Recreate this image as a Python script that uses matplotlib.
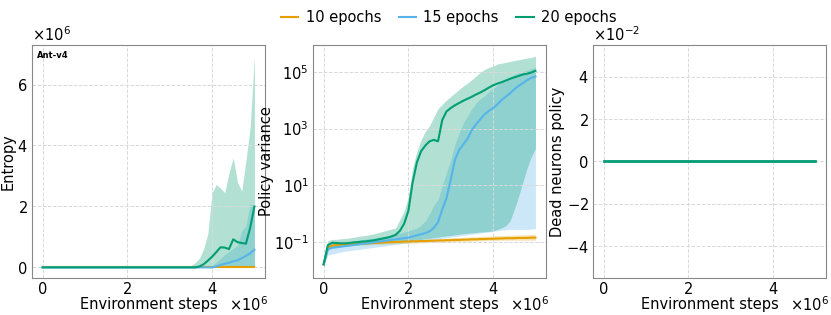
import numpy as np
import matplotlib
matplotlib.use("Agg")
import matplotlib.pyplot as plt

# environment steps, one reading every 1e5 steps
steps = np.linspace(0, 5e6, 51)

labels = ["10 epochs", "15 epochs", "20 epochs"]
colors = ["#E69F00", "#56B4E9", "#009E73"]

# Entropy (in units of 1e6)
ent_orange_mean = [0.0] * 51
ent_orange_lo = [0.0] * 51
ent_orange_hi = [0.0] * 41 + [0.04] * 10
ent_blue_mean = [0.0] * 41 + [0.03, 0.08, 0.12, 0.15, 0.2, 0.23, 0.3, 0.38, 0.46, 0.58]
ent_blue_lo = [0.0] * 51
ent_blue_hi = [0.0] * 40 + [0.05, 0.17, 0.3, 0.42, 0.52, 0.62, 0.72, 1.2, 1.37, 2.1, 2.0]
ent_green_mean = [0.0] * 37 + [0.03, 0.1, 0.22, 0.35, 0.5, 0.66, 0.65, 0.6, 0.92,
                               0.83, 0.8, 0.78, 1.3, 2.0]
ent_green_lo = [0.0] * 51
ent_green_hi = [0.0] * 34 + [0.02, 0.06, 0.15, 0.3, 0.6, 1.1, 2.45, 2.72, 2.6, 2.45,
                             3.1, 3.6, 2.8, 2.5, 3.5, 4.6, 6.95]

# Policy variance, log10 values
var_orange_mean = [-1.78, -1.2, -1.12, -1.1, -1.09, -1.08, -1.07, -1.06, -1.05, -1.04,
                   -1.04, -1.03, -1.02, -1.02, -1.01, -1.0, -1.0, -0.99, -0.99, -0.98,
                   -0.98, -0.97, -0.97, -0.96, -0.96, -0.95, -0.95, -0.94, -0.94, -0.93,
                   -0.93, -0.92, -0.92, -0.91, -0.91, -0.9, -0.9, -0.89, -0.89, -0.88,
                   -0.88, -0.87, -0.87, -0.86, -0.86, -0.86, -0.85, -0.85, -0.85, -0.84,
                   -0.84]
var_orange_hi = [-1.7, -1.13, -1.06, -1.04, -1.03, -1.02, -1.01, -1.0, -0.99, -0.98,
                 -0.98, -0.97, -0.96, -0.96, -0.95, -0.94, -0.94, -0.93, -0.93, -0.92,
                 -0.92, -0.91, -0.91, -0.9, -0.9, -0.89, -0.88, -0.87, -0.87, -0.86,
                 -0.85, -0.84, -0.84, -0.83, -0.82, -0.81, -0.81, -0.8, -0.79, -0.79,
                 -0.78, -0.77, -0.77, -0.76, -0.76, -0.75, -0.75, -0.74, -0.74, -0.73,
                 -0.73]
var_orange_lo = [-1.85, -1.28, -1.18, -1.16, -1.15, -1.14, -1.13, -1.12, -1.11, -1.1,
                 -1.1, -1.09, -1.08, -1.08, -1.07, -1.06, -1.06, -1.05, -1.05, -1.04,
                 -1.04, -1.03, -1.03, -1.02, -1.02, -1.01, -1.01, -1.0, -1.0, -0.99,
                 -0.99, -0.98, -0.98, -0.97, -0.97, -0.96, -0.96, -0.95, -0.95, -0.94,
                 -0.94, -0.94, -0.93, -0.93, -0.93, -0.93, -0.93, -0.93, -0.93, -0.93,
                 -0.93]
var_blue_mean = [-1.78, -1.25, -1.2, -1.18, -1.16, -1.14, -1.12, -1.1, -1.08, -1.06,
                 -1.04, -1.02, -1.0, -0.98, -0.96, -0.94, -0.92, -0.9, -0.88, -0.86,
                 -0.84, -0.8, -0.76, -0.72, -0.68, -0.62, -0.5, -0.3, 0.15, 0.55,
                 1.2, 1.9, 2.25, 2.45, 2.65, 2.95, 3.15, 3.33, 3.5, 3.62,
                 3.72, 3.85, 4.0, 4.12, 4.24, 4.38, 4.5, 4.6, 4.7, 4.78,
                 4.83]
var_blue_hi = [-1.7, -1.1, -1.05, -1.03, -1.01, -0.99, -0.97, -0.95, -0.93, -0.91,
               -0.89, -0.87, -0.85, -0.83, -0.81, -0.78, -0.75, -0.72, -0.68, -0.64,
               -0.6, -0.55, -0.5, -0.4, -0.25, 0.0, 0.3, 0.5, 1.0, 1.45,
               1.9, 2.45, 2.85, 3.2, 3.45, 3.7, 3.9, 4.05, 4.15, 4.3,
               4.4, 4.52, 4.62, 4.72, 4.82, 4.9, 4.96, 5.0, 5.05, 5.1,
               5.17]
var_blue_lo = [-1.85, -1.45, -1.42, -1.38, -1.35, -1.32, -1.3, -1.28, -1.26, -1.24,
               -1.22, -1.2, -1.18, -1.16, -1.14, -1.12, -1.1, -1.08, -1.06, -1.04,
               -1.02, -1.0, -0.98, -0.96, -0.94, -0.92, -0.9, -0.88, -0.86, -0.84,
               -0.82, -0.8, -0.78, -0.76, -0.74, -0.72, -0.7, -0.68, -0.66, -0.64,
               -0.62, -0.6, -0.58, -0.56, -0.55, -0.55, -0.55, -0.55, -0.55, -0.54,
               -0.52]
var_green_mean = [-1.78, -1.1, -1.02, -1.03, -1.04, -1.04, -1.03, -1.01, -1.0, -0.98,
                  -0.97, -0.95, -0.93, -0.9, -0.87, -0.84, -0.8, -0.74, -0.6, -0.35,
                  0.1, 1.1, 1.8, 2.2, 2.4, 2.55, 2.6, 2.55, 3.3, 3.6,
                  3.72, 3.82, 3.9, 3.98, 4.05, 4.12, 4.2, 4.27, 4.35, 4.44,
                  4.52, 4.58, 4.63, 4.69, 4.75, 4.8, 4.85, 4.9, 4.93, 4.97,
                  5.03]
var_green_hi = [-1.7, -0.95, -0.9, -0.9, -0.88, -0.87, -0.85, -0.83, -0.8, -0.78,
                -0.76, -0.73, -0.7, -0.66, -0.62, -0.58, -0.54, -0.5, -0.2, 0.1,
                0.6, 1.6, 2.2, 2.6, 2.9, 3.1, 3.4, 3.7, 3.85, 4.0,
                4.13, 4.25, 4.38, 4.5, 4.6, 4.72, 4.85, 4.98, 5.08, 5.15,
                5.2, 5.27, 5.3, 5.33, 5.36, 5.39, 5.42, 5.45, 5.48, 5.5,
                5.55]
var_green_lo = [-1.85, -1.2, -1.15, -1.14, -1.13, -1.12, -1.11, -1.1, -1.09, -1.08,
                -1.07, -1.06, -1.05, -1.04, -1.03, -1.02, -1.0, -0.99, -0.98, -0.97,
                -0.96, -0.94, -0.92, -0.9, -0.88, -0.86, -0.84, -0.82, -0.8, -0.78,
                -0.76, -0.74, -0.72, -0.7, -0.69, -0.67, -0.66, -0.64, -0.63, -0.62,
                -0.6, -0.55, -0.5, -0.42, -0.25, 0.15, 0.6, 1.1, 1.6, 2.0,
                2.3]

# Dead neurons policy: all runs stay at zero
dead_orange = [0.0] * 51
dead_blue = [0.0] * 51
dead_green = [0.0] * 51

FS = 10.5
plt.rcParams['font.family'] = ['DejaVu Sans']
plt.rcParams['font.size'] = FS
plt.rcParams['axes.formatter.use_mathtext'] = True

fig = plt.figure(figsize=(8.31, 3.15), dpi=100)
ax1 = fig.add_axes([0.0385, 0.1175, 0.2804, 0.7397])
ax2 = fig.add_axes([0.3767, 0.1175, 0.2804, 0.7397])
ax3 = fig.add_axes([0.7136, 0.1175, 0.2804, 0.7397])


def band(ax, mean, lo, hi, color, label, scale=1.0, log=False):
    mean, lo, hi = np.array(mean), np.array(lo), np.array(hi)
    if log:
        mean, lo, hi = 10 ** mean, 10 ** lo, 10 ** hi
    else:
        mean, lo, hi = mean * scale, lo * scale, hi * scale
    ax.fill_between(steps, lo, hi, color=color, alpha=0.3, lw=0)
    ax.plot(steps, mean, color=color, lw=1.5, label=label)


ent = [(ent_orange_mean, ent_orange_lo, ent_orange_hi),
       (ent_blue_mean, ent_blue_lo, ent_blue_hi),
       (ent_green_mean, ent_green_lo, ent_green_hi)]
var = [(var_orange_mean, var_orange_lo, var_orange_hi),
       (var_blue_mean, var_blue_lo, var_blue_hi),
       (var_green_mean, var_green_lo, var_green_hi)]
dead = [dead_orange, dead_blue, dead_green]

for (m, lo, hi), c, lab in zip(ent, colors, labels):
    band(ax1, m, lo, hi, c, lab, scale=1e6)
for (m, lo, hi), c, lab in zip(var, colors, labels):
    band(ax2, m, lo, hi, c, lab, log=True)
for d, c, lab in zip(dead, colors, labels):
    ax3.plot(steps, d, color=c, lw=1.8, label=lab)

ax2.set_yscale('log')
ax2.set_ylim(10 ** -2.26, 10 ** 5.94)
ax2.set_yticks([1e-1, 1e1, 1e3, 1e5])
ax2.yaxis.set_minor_locator(matplotlib.ticker.NullLocator())

ax1.set_ylabel("Entropy", labelpad=1)
ax2.set_ylabel("Policy variance", labelpad=0)
ax3.set_ylabel("Dead neurons policy", labelpad=1)
ax1.text(0.02, 0.975, "Ant-v4", transform=ax1.transAxes, fontsize=6,
         fontweight='bold', va='top', ha='left')

for ax in (ax1, ax2, ax3):
    ax.set_xlabel("Environment steps", labelpad=0)
    ax.set_xticks([0, 2e6, 4e6])
    ax.ticklabel_format(axis='x', style='sci', scilimits=(0, 0), useMathText=True)
    ax.grid(True, color='#d9d9d9', linestyle='--', lw=0.7)
    ax.tick_params(length=0, labelsize=FS, pad=3)
    ax.tick_params(axis='x', pad=2)
    for s in ax.spines.values():
        s.set_color('#888888')
    ax.yaxis.get_offset_text().set_fontsize(FS)
for ax in (ax1, ax3):
    ax.ticklabel_format(axis='y', style='sci', scilimits=(0, 0), useMathText=True)

# put the x multiplier beside the x label, as in the source figure
fig.canvas.draw()
for ax in (ax1, ax2, ax3):
    off = ax.xaxis.get_major_formatter().get_offset()
    ax.xaxis.get_offset_text().set_visible(False)
    ax.annotate(off, xy=(1, 0), xycoords='axes fraction', xytext=(3, -27),
                textcoords='offset pixels', ha='right', va='center', fontsize=FS)

h, l = ax1.get_legend_handles_labels()
fig.legend(h, l, loc='upper center', bbox_to_anchor=(0.54, 1.01), ncol=3,
           frameon=False, fontsize=FS, handlelength=1.2, handletextpad=0.5,
           columnspacing=1.2)

fig.savefig("out.png", dpi=100)
